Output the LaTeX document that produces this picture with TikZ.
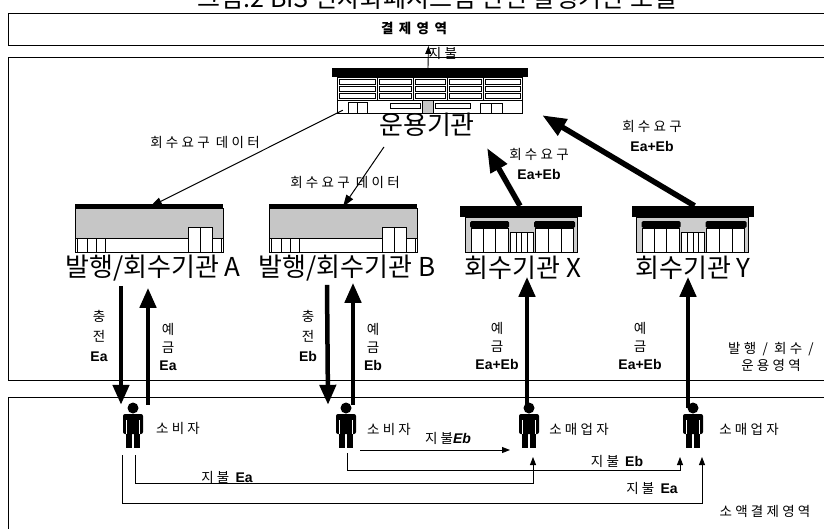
\documentclass[tikz,border=0pt]{standalone}
\usepackage{fontspec}
\setmainfont{Liberation Sans}
\newfontfamily\kr{Noto Sans CJK KR}
\newfontfamily\krs[LetterSpace=24]{Noto Sans CJK KR}
\newfontfamily\krw[LetterSpace=40]{Noto Sans CJK KR}
\usetikzlibrary{arrows.meta,calc}
\newcommand\lat[1]{{\rmfamily\bfseries\fontsize{14}{18}\selectfont #1}}

\tikzset{
  % office block of the operating institution
  opsbuilding/.pic={
    \fill (-98,-22.5) rectangle (98,-13.5);
    \draw[line width=0.8pt, fill=white] (-93,-13.5) rectangle (92,22.5);
    \foreach \xl/\xr in {-93/-53,-53/-17,-17/17,17/53,53/92}{
      \foreach \yt in {-11,-4,3}{
        \draw[line width=0.7pt] (\xl+2,\yt) rectangle (\xr-2,\yt+5);
      }
      \draw[line width=0.8pt] (\xl,-13.5) -- (\xl,10);
    }
    \draw[line width=0.8pt] (-93,10) -- (92,10);
    \draw[line width=0.8pt] (-82,12) rectangle (-63,22.5) (-72.5,12) -- (-72.5,22.5);
    \draw[line width=0.8pt, fill=gray!45] (-8,10) rectangle (3,22.5);
    \draw[line width=0.8pt] (-40,13) rectangle (-10,18) (5,13) rectangle (40,18);
    \draw[line width=0.8pt] (50,13) rectangle (72,22.5) (61,13) -- (61,22.5);
  },
  % issuing / collecting bank
  bankbuilding/.pic={
    \fill (-74,-24) rectangle (74,-20);
    \draw[line width=0.8pt, fill=gray!45] (-74,-20) rectangle (74,10);
    \draw[line width=0.8pt, fill=white] (-74,10) rectangle (74,24);
    \draw[line width=0.8pt] (-72,10) rectangle (-62,24);
    \draw[line width=0.8pt] (-62,10) rectangle (-44,24) (-53,10) -- (-53,24);
    \draw[line width=0.8pt, fill=white] (39,-1) rectangle (63,24);
    \draw[line width=0.8pt] (51,-1) -- (51,24);
    \draw[line width=0.8pt] (63,10) rectangle (72,24);
  },
  % collecting shop front
  shopbuilding/.pic={
    \fill (-61,-23) rectangle (61,-12);
    \draw[line width=0.8pt, fill=gray!40] (-56,-12) rectangle (56,23);
    \fill[rounded corners=1.5pt] (-51,-8) rectangle (-12,-1);
    \fill[rounded corners=1.5pt] (13,-8) rectangle (54,-1);
    \draw[line width=0.8pt, fill=white] (-50,-1) rectangle (-13,23);
    \draw[line width=0.8pt] (-38,-1) -- (-38,23) (-26,-1) -- (-26,23);
    \draw[line width=0.8pt, fill=white] (14,-1) rectangle (52,23);
    \draw[line width=0.8pt] (27,-1) -- (27,23) (40,-1) -- (40,23);
    \draw[line width=0.8pt, fill=white] (-11,3) rectangle (12,23);
    \draw[line width=0.8pt] (-5,3) -- (-5,23) (0.5,3) -- (0.5,23) (6,3) -- (6,23);
  },
  % standing person
  person/.pic={
    \fill (1,-20) circle (5.5pt);
    \fill[rounded corners=2pt] (-9,-14) rectangle (11,6);
    \fill (-6,4) rectangle (0,20);
    \fill (2,4) rectangle (8,20);
    \draw[white, line width=0.8pt] (-5.5,-8) -- (-5.5,6) (7.5,-8) -- (7.5,6);
  },
  region/.style={draw, line width=0.9pt, inner sep=0pt, anchor=north west},
  placebox/.style={inner sep=0pt, minimum width=#1},
  biglbl/.style={font=\kr\fontsize{26}{28}\selectfont, inner sep=0pt},
  lbl/.style={font=\krs\fontsize{13.5}{15}\selectfont, inner sep=0pt},
  stackA/.style={font=\krs\fontsize{13.5}{20}\selectfont, inner sep=0pt, align=center},
  stackB/.style={font=\krs\fontsize{13.5}{18}\selectfont, inner sep=0pt, align=center},
  bigarrow/.style={line width=5.5pt, -{Triangle[length=24pt,width=18pt]}},
  vertarrow/.style={line width=4.5pt, -{Triangle[length=20pt,width=16pt]}},
  dataarrow/.style={line width=1pt, -{Triangle[length=12pt,width=8pt]}},
  payarrow/.style={line width=0.9pt, -{Triangle[length=8pt,width=6pt]}},
}

\begin{document}
\begin{tikzpicture}[x=1pt,y=-1pt]
\useasboundingbox (0,0) rectangle (824,528);

% heading, running off the top edge
\node[font=\kr\fontsize{25}{27}\selectfont, anchor=base, inner sep=0pt] (title) at (437,7)
  {그림.2 BIS 전자화폐시스템 관련 발행기관 모델};

% three areas
\node[region, minimum width=840, minimum height=32] (settle) at (8,13) {};
\node[region, minimum width=840, minimum height=323] (issue) at (8,57) {};
\node[region, minimum width=840, minimum height=160] (retail) at (8,397) {};
\node[font=\krw\fontsize{13.5}{15}\selectfont\bfseries, inner sep=0pt] (settleLbl) at (414,28) {결제영역};
\node[stackB, font=\krs\fontsize{13.5}{17}\selectfont] (issueLbl) at (771,357) {발행 / 회수 /\\운용영역};
\node[lbl] (retailLbl) at (765,511) {소액결제영역};

% institutions
\node[placebox=196, minimum height=45] (ops) at (430,90.5) {};
\pic at (ops) {opsbuilding};
\node[biglbl] (opsLbl) at (427,125) {운용기관};

\node[placebox=148, minimum height=48] (bankA) at (149,228) {};
\pic at (bankA) {bankbuilding};
\node[biglbl] (labA) at (153,268) {발행/회수기관 A};

\node[placebox=148, minimum height=48] (bankB) at (343,228) {};
\pic at (bankB) {bankbuilding};
\node[biglbl] (labB) at (347,268) {발행/회수기관 B};

\node[placebox=122, minimum height=46] (shopX) at (521,229) {};
\pic at (shopX) {shopbuilding};
\node[biglbl] (labX) at (523,268) {회수기관 X};

\node[placebox=122, minimum height=46] (shopY) at (692.5,229) {};
\pic at (shopY) {shopbuilding};
\node[biglbl] (labY) at (693,268) {회수기관 Y};

% people
\node[placebox=22, minimum height=46] (pA) at (132,428) {};
\pic at (pA) {person};
\node[lbl] (pAlbl) at (178,428) {소비자};
\node[placebox=22, minimum height=46] (pB) at (345,428) {};
\pic at (pB) {person};
\node[lbl] (pBlbl) at (389,429) {소비자};
\node[placebox=22, minimum height=46] (pX) at (528,428) {};
\pic at (pX) {person};
\node[lbl] (pXlbl) at (579,429) {소매업자};
\node[placebox=22, minimum height=46] (pY) at (692,428) {};
\pic at (pY) {person};
\node[lbl] (pYlbl) at (749,429) {소매업자};

% settlement payment by the operator
\draw[payarrow] ($(ops.north)+(-2,0)$) -- (settle.south);
\node[lbl] (payTop) at (443,53) {지불};

% collection request data
\draw[dataarrow] ($(ops.south west)+(11,-3)$) -- ($(bankA.north)+(1,3)$);
\draw[dataarrow] ($(opsLbl.south west)+(5,10)$) -- ($(bankB.north)+(0,3)$);
\node[lbl] (reqA) at (205,142) {회수요구 데이터};
\node[lbl] (reqB) at (345,182) {회수요구 데이터};

% collection requests from the collecting institutions
\draw[bigarrow] ($(shopX.north)+(-1,0)$) -- ($(opsLbl.south east)+(12,11)$);
\draw[bigarrow] ($(shopY.north)+(2,0)$) -- ($(ops.south east)+(14,2)$);
\node[lbl, align=center, font=\krs\fontsize{13.5}{20}\selectfont] (reqX) at (539,164) {회수요구\\\lat{Ea+Eb}};
\node[lbl, align=center, font=\krs\fontsize{13.5}{20}\selectfont] (reqY) at (652,136) {회수요구\\\lat{Ea+Eb}};

% loading and deposit flows
\draw[vertarrow] ($(pA.north)+(-11,-119)$) -- ($(pA.north)+(-11,0)$);
\draw[vertarrow] ($(pA.north)+(16,0)$) -- ($(pA.north)+(16,-117)$);
\draw[vertarrow] ($(pB.north)+(-18,-120)$) -- ($(pB.north)+(-17,0)$);
\draw[vertarrow] ($(pB.north)+(8,0)$) -- ($(pB.north)+(8,-122)$);
\draw[vertarrow] ($(pX.north)+(-1,3)$) -- ($(pX.north)+(-1,-128)$);
\draw[vertarrow] ($(pY.north)+(-4,3)$) -- ($(pY.north)+(-4,-128)$);

\node[stackA] (chA) at (99,336) {충\\전\\\lat{Ea}};
\node[stackB] (dpA) at (168,347) {예\\금\\\lat{Ea}};
\node[stackA] (chB) at (308,336) {충\\전\\\lat{Eb}};
\node[stackB] (dpB) at (373,347) {예\\금\\\lat{Eb}};
\node[stackB] (dpX) at (497,346) {예\\금\\\lat{Ea+Eb}};
\node[stackB] (dpY) at (640,346) {예\\금\\\lat{Ea+Eb}};

% retail payments
\draw[payarrow] ($(pB.center)+(15,22)$) -- ($(pX.center)+(-18,22)$);
\draw[payarrow] ($(pB.center)+(2,25)$) -- ++(0,17) -| ($(pY.center)+(-12,29)$);
\draw[payarrow] ($(pA.center)+(3,27)$) -- ++(0,28) -| ($(pX.center)+(5,29)$);
\draw[payarrow] ($(pA.center)+(-10,27)$) -- ++(0,48) -| ($(pY.center)+(10,29)$);

\node[lbl] (payBX) at (448,438) {지불\lat{\itshape Eb}};
\node[lbl] (payBY) at (617,461) {지불 \lat{Eb}};
\node[lbl] (payAX) at (227,477) {지불 \lat{Ea}};
\node[lbl] (payAY) at (652,488) {지불 \lat{Ea}};
\end{tikzpicture}
\end{document}
